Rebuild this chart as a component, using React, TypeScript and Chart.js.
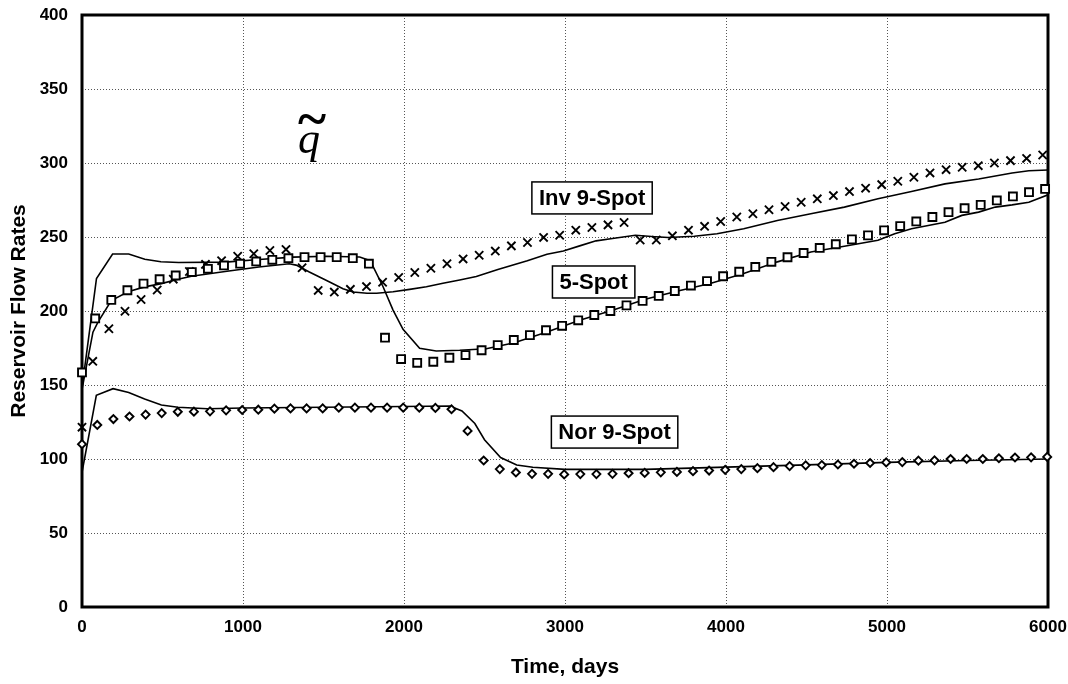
import React, { useEffect, useRef } from "react";
import { Chart, registerables } from "chart.js";

Chart.register(...registerables);

// ---- Observed (markers) ----
const fiveSpotDays = [0, 82, 182, 282, 382, 482, 582, 682, 782, 882, 982, 1082, 1182, 1282, 1382, 1482, 1582, 1682, 1782, 1882, 1982, 2082, 2182, 2282, 2382, 2482, 2582, 2682, 2782, 2882, 2982, 3082, 3182, 3282, 3382, 3482, 3582, 3682, 3782, 3882, 3982, 4082, 4182, 4282, 4382, 4482, 4582, 4682, 4782, 4882, 4982, 5082, 5182, 5282, 5382, 5482, 5582, 5682, 5782, 5882, 5982];
const fiveSpotRates = [158.5, 195, 207.5, 214, 218.5, 221.5, 224, 226.3, 228.5, 230.8, 232, 233.5, 234.6, 235.7, 236.4, 236.4, 236.4, 235.7, 232, 182, 167.5, 165, 165.7, 168.4, 170.2, 173.5, 177, 180.4, 183.7, 187, 190, 193.7, 197.3, 200, 203.8, 206.8, 210.2, 213.5, 217.2, 220.2, 223.5, 226.5, 229.8, 233.2, 236.3, 239.2, 242.6, 245.1, 248.4, 251.1, 254.5, 257.4, 260.5, 263.5, 266.8, 269.5, 271.7, 274.7, 277.4, 280.3, 282.5];

const inv9Days = [0, 67, 167, 267, 367, 467, 567, 667, 767, 867, 967, 1067, 1167, 1267, 1367, 1467, 1567, 1667, 1767, 1867, 1967, 2067, 2167, 2267, 2367, 2467, 2567, 2667, 2767, 2867, 2967, 3067, 3167, 3267, 3367, 3467, 3567, 3667, 3767, 3867, 3967, 4067, 4167, 4267, 4367, 4467, 4567, 4667, 4767, 4867, 4967, 5067, 5167, 5267, 5367, 5467, 5567, 5667, 5767, 5867, 5967];
const inv9Rates = [121.5, 166, 188, 199.8, 207.8, 214.2, 221.5, 226.7, 231.5, 234, 237, 238.7, 240.9, 241.6, 229.2, 213.9, 212.8, 214.6, 216.5, 219.4, 222.6, 226, 228.9, 231.9, 235.2, 237.7, 240.5, 244, 246.3, 249.7, 251.2, 254.6, 256.4, 258.2, 259.8, 248, 248, 250.8, 254.6, 257.2, 260.5, 263.5, 265.7, 268.4, 270.6, 273.5, 275.8, 278, 280.7, 283, 285.4, 287.7, 290.4, 293.3, 295.5, 297.1, 298.2, 300, 301.6, 303.1, 305.4];

const nor9Days = [0, 95, 195, 295, 395, 495, 595, 695, 795, 895, 995, 1095, 1195, 1295, 1395, 1495, 1595, 1695, 1795, 1895, 1995, 2095, 2195, 2295, 2395, 2495, 2595, 2695, 2795, 2895, 2995, 3095, 3195, 3295, 3395, 3495, 3595, 3695, 3795, 3895, 3995, 4095, 4195, 4295, 4395, 4495, 4595, 4695, 4795, 4895, 4995, 5095, 5195, 5295, 5395, 5495, 5595, 5695, 5795, 5895, 5995];
const nor9Rates = [110, 123, 127, 128.7, 130, 131, 131.9, 132, 132.2, 132.9, 133.1, 133.3, 134, 134.2, 134.2, 134.2, 134.7, 134.7, 134.7, 134.7, 134.7, 134.7, 134.5, 133.6, 119, 99, 93.2, 90.9, 90, 90, 89.6, 89.8, 89.8, 90, 90.4, 90.6, 91, 91.3, 91.8, 92.2, 92.7, 93.2, 93.8, 94.5, 95.2, 95.7, 95.9, 96.3, 96.8, 97.3, 97.7, 97.9, 98.9, 99.1, 100, 100, 100, 100.5, 101, 101.1, 101.4];

// ---- Simulated (lines) ----
const fiveSpotSimDays = [0, 90, 190, 290, 390, 490, 600, 890, 1100, 1310, 1520, 1725, 1790, 1870, 1932, 1994, 2097, 2200, 2346, 2511, 2685, 2888, 3091, 3295, 3498, 3701, 3902, 4110, 4319, 4527, 4735, 4944, 5048, 5152, 5360, 5465, 5569, 5673, 5777, 5881, 6000];
const fiveSpotSimRates = [148, 222, 238.5, 238.5, 235, 233.3, 232.8, 233, 234.8, 236.4, 237, 236.5, 234, 216.4, 200.6, 187.6, 174.8, 173, 173.5, 174.5, 178.6, 185.8, 193.7, 200.5, 208, 213.5, 218.6, 225.3, 233.2, 239.9, 243.7, 247.8, 252.2, 255.6, 260, 264.6, 266.8, 270.2, 271.7, 273.5, 278.5];

const inv9SimDays = [0, 68, 99, 182, 286, 389, 493, 596, 680, 889, 1098, 1287, 1330, 1412, 1538, 1621, 1684, 1770, 1830, 1932, 2035, 2139, 2242, 2346, 2449, 2583, 2766, 2888, 2990, 3091, 3193, 3295, 3437, 3539, 3640, 3803, 3944, 4110, 4319, 4527, 4735, 4944, 5152, 5360, 5569, 5777, 5881, 6000];
const inv9SimRates = [147, 185.7, 192.5, 207, 213, 216.3, 218.5, 221.5, 223.5, 226.7, 229.7, 231.9, 231, 226.3, 219.6, 215, 212.8, 212, 212, 213, 214.6, 216.4, 218.7, 221, 223.3, 228, 233.9, 238.4, 240.6, 244, 247.4, 249, 251.2, 250.3, 249.7, 250.5, 252.2, 255.6, 261.2, 265.7, 270.2, 275.8, 280.7, 285.9, 289.2, 293.3, 294.8, 295.3];

const nor9SimDays = [0, 89, 193, 290, 389, 493, 596, 780, 1000, 1500, 2000, 2285, 2360, 2440, 2500, 2600, 2700, 2800, 3000, 3500, 4000, 4500, 5000, 5500, 6000];
const nor9SimRates = [91, 143, 147.5, 145, 140.5, 136.5, 135, 134, 134.5, 135, 135.5, 135.8, 132.4, 124, 113, 101, 96, 94.4, 93, 93, 94.5, 96, 97.7, 99, 100];

// ---- Axis ticks / labels ----
const xTicks = [0, 1000, 2000, 3000, 4000, 5000, 6000];
const yTicks = [0, 50, 100, 150, 200, 250, 300, 350, 400];
const curveLabels = ["Inv 9-Spot", "5-Spot", "Nor 9-Spot"];
const curveLabelAnchors = [
  [3168, 276.4],
  [3178, 219.6],
  [3308, 118.2],
];
const symbolAnchor = [1410, 307];

const SANS = "'Liberation Sans', Arial, Helvetica, sans-serif";
const SERIF = "'Liberation Serif', 'Times New Roman', serif";

const zip = (xs: number[], ys: number[]) => xs.map((x, i) => ({ x, y: ys[i] }));

const decorPlugin = {
  id: "decor",
  beforeDatasetsDraw(chart: any) {
    const { ctx, chartArea } = chart;
    ctx.save();
    ctx.strokeStyle = "#000";
    ctx.lineWidth = 3;
    ctx.strokeRect(chartArea.left, chartArea.top, chartArea.right - chartArea.left, chartArea.bottom - chartArea.top);
    ctx.restore();
  },
  afterDatasetsDraw(chart: any) {
    const { ctx } = chart;
    const xs = chart.scales.x;
    const ys = chart.scales.y;
    ctx.save();
    ctx.font = `bold 22px ${SANS}`;
    ctx.textAlign = "center";
    ctx.textBaseline = "middle";
    curveLabels.forEach((t, i) => {
      const cx = xs.getPixelForValue(curveLabelAnchors[i][0]);
      const cy = ys.getPixelForValue(curveLabelAnchors[i][1]);
      const w = ctx.measureText(t).width + 14;
      const h = 32;
      ctx.fillStyle = "#fff";
      ctx.fillRect(cx - w / 2, cy - h / 2, w, h);
      ctx.strokeStyle = "#000";
      ctx.lineWidth = 1.5;
      ctx.strokeRect(cx - w / 2, cy - h / 2, w, h);
      ctx.fillStyle = "#000";
      ctx.fillText(t, cx, cy + 1);
    });
    const qx = xs.getPixelForValue(symbolAnchor[0]);
    const qy = ys.getPixelForValue(symbolAnchor[1]);
    ctx.fillStyle = "#000";
    ctx.textAlign = "center";
    ctx.textBaseline = "alphabetic";
    ctx.font = `italic 44px ${SERIF}`;
    ctx.fillText("q", qx, qy);
    ctx.font = `bold 54px ${SERIF}`;
    ctx.fillText("~", qx + 3, qy - 16);
    ctx.restore();
  },
};

export default function App() {
  const ref = useRef<HTMLCanvasElement>(null);
  useEffect(() => {
    if (!ref.current) return;
    const markerBase = {
      showLine: false,
      borderColor: "#000",
      backgroundColor: "#fff",
      pointBorderColor: "#000",
      pointBackgroundColor: "#fff",
      pointBorderWidth: 1.9,
      clip: false as const,
    };
    const lineBase = {
      showLine: true,
      borderColor: "#000",
      borderWidth: 1.6,
      pointRadius: 0,
      tension: 0,
      fill: false,
    };
    const tickFont = { family: SANS, size: 17, weight: "bold" as const };
    const titleFont = { family: SANS, size: 21, weight: "bold" as const };
    const chart = new Chart(ref.current, {
      type: "scatter",
      data: {
        datasets: [
          { ...markerBase, label: "5-Spot data", data: zip(fiveSpotDays, fiveSpotRates), pointStyle: "rect", pointRadius: 5.6 },
          { ...markerBase, label: "Inv 9-Spot data", data: zip(inv9Days, inv9Rates), pointStyle: "crossRot", pointRadius: 5.8 },
          { ...markerBase, label: "Nor 9-Spot data", data: zip(nor9Days, nor9Rates), pointStyle: "rectRot", pointRadius: 4 },
          { ...lineBase, label: "5-Spot sim", data: zip(fiveSpotSimDays, fiveSpotSimRates) },
          { ...lineBase, label: "Inv 9-Spot sim", data: zip(inv9SimDays, inv9SimRates) },
          { ...lineBase, label: "Nor 9-Spot sim", data: zip(nor9SimDays, nor9SimRates) },
        ] as any,
      },
      options: {
        animation: false,
        responsive: false,
        layout: { padding: { top: 15, right: 20, left: 0, bottom: 0 } },
        plugins: { legend: { display: false }, tooltip: { enabled: false } },
        scales: {
          x: {
            type: "linear",
            min: 0,
            max: 6000,
            afterFit: (s: any) => { s.height = 77; s.paddingLeft = 0; s.paddingRight = 0; },
            afterBuildTicks: (s: any) => { s.ticks = xTicks.map((v) => ({ value: v })); },
            ticks: { color: "#000", font: tickFont, padding: 10, maxRotation: 0, callback: (v: any) => String(v) },
            grid: { color: "#555", lineWidth: 1, drawTicks: false },
            border: { display: false, dash: [1, 2] },
            title: { display: true, text: "Time, days", color: "#000", font: titleFont, padding: { top: 0, bottom: 4 } },
          },
          y: {
            type: "linear",
            min: 0,
            max: 400,
            afterFit: (s: any) => { s.width = 82; s.paddingTop = 0; s.paddingBottom = 0; },
            afterBuildTicks: (s: any) => { s.ticks = yTicks.map((v) => ({ value: v })); },
            ticks: { color: "#000", font: tickFont, padding: 14, callback: (v: any) => String(v) },
            grid: { color: "#555", lineWidth: 1, drawTicks: false },
            border: { display: false, dash: [1, 2] },
            title: { display: true, text: "Reservoir Flow Rates", color: "#000", font: titleFont, padding: { top: 7, bottom: 0 } },
          },
        },
      },
      plugins: [decorPlugin],
    });
    return () => chart.destroy();
  }, []);
  return (
    <div style={{ position: "fixed", left: 0, top: 0, width: 1068, height: 684, background: "#fff" }}>
      <canvas ref={ref} width={1068} height={684} style={{ width: 1068, height: 684, display: "block" }} />
    </div>
  );
}
